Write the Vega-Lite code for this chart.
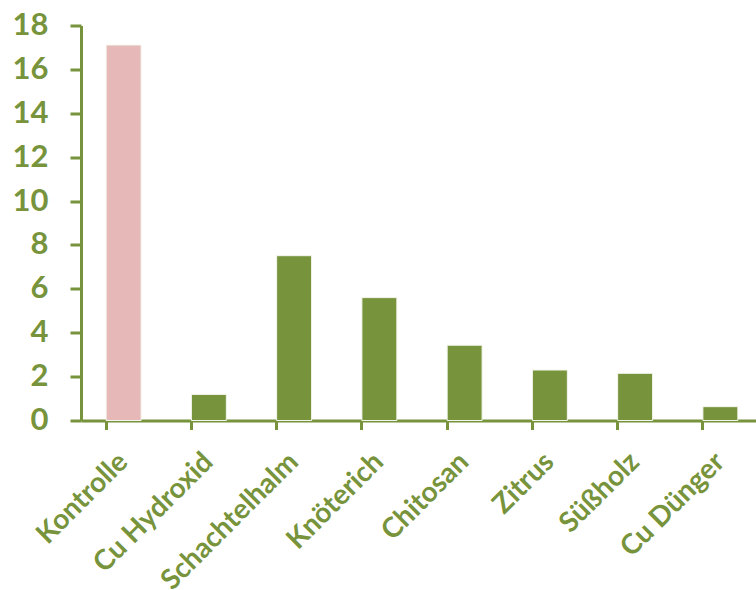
{
  "$schema": "https://vega.github.io/schema/vega-lite/v6.json",
  "autosize": "none",
  "width": 682,
  "height": 395,
  "padding": {"left": 81, "top": 25.5, "right": 0, "bottom": 170},
  "background": "#ffffff",
  "data": {"values": [
    {"Behandlung": "Kontrolle", "Wert": 17.11, "Gruppe": "Kontrolle"},
    {"Behandlung": "Cu Hydroxid", "Wert": 1.19, "Gruppe": "Mittel"},
    {"Behandlung": "Schachtelhalm", "Wert": 7.51, "Gruppe": "Mittel"},
    {"Behandlung": "Knöterich", "Wert": 5.6, "Gruppe": "Mittel"},
    {"Behandlung": "Chitosan", "Wert": 3.43, "Gruppe": "Mittel"},
    {"Behandlung": "Zitrus", "Wert": 2.3, "Gruppe": "Mittel"},
    {"Behandlung": "Süßholz", "Wert": 2.15, "Gruppe": "Mittel"},
    {"Behandlung": "Cu Dünger", "Wert": 0.63, "Gruppe": "Mittel"}
  ]},
  "config": {"view": {"stroke": null}},
  "mark": {"type": "bar", "stroke": "#f4f7ee", "strokeWidth": 1},
  "encoding": {
    "x": {
      "field": "Behandlung", "type": "nominal", "sort": null,
      "scale": {"paddingInner": 0.59, "paddingOuter": 0.295},
      "axis": {
        "title": null, "bandPosition": 0, "labelAngle": -45, "labelAlign": "right", "labelBaseline": "middle",
        "labelFont": "Lato", "labelFontWeight": "bold", "labelFontSize": 28, "labelColor": "#77933C",
        "labelPadding": 28, "labelLimit": 0, "domainColor": "#77933C", "domainWidth": 3, "tickColor": "#77933C", "tickWidth": 3, "tickSize": 9,
        "grid": false, "labelOverlap": false
      }
    },
    "y": {
      "field": "Wert", "type": "quantitative",
      "scale": {"domain": [0, 18], "nice": false},
      "axis": {
        "title": null, "values": [0, 2, 4, 6, 8, 10, 12, 14, 16, 18], "grid": false,
        "labelFont": "Lato", "labelFontWeight": "bold", "labelFontSize": 31, "labelColor": "#77933C",
        "labelPadding": 22, "domainColor": "#77933C", "domainWidth": 3, "tickColor": "#77933C", "tickWidth": 3, "tickSize": 11
      }
    },
    "color": {
      "field": "Gruppe", "type": "nominal",
      "scale": {"domain": ["Kontrolle", "Mittel"], "range": ["#E6B9B8", "#77933C"]},
      "legend": null
    }
  }
}
